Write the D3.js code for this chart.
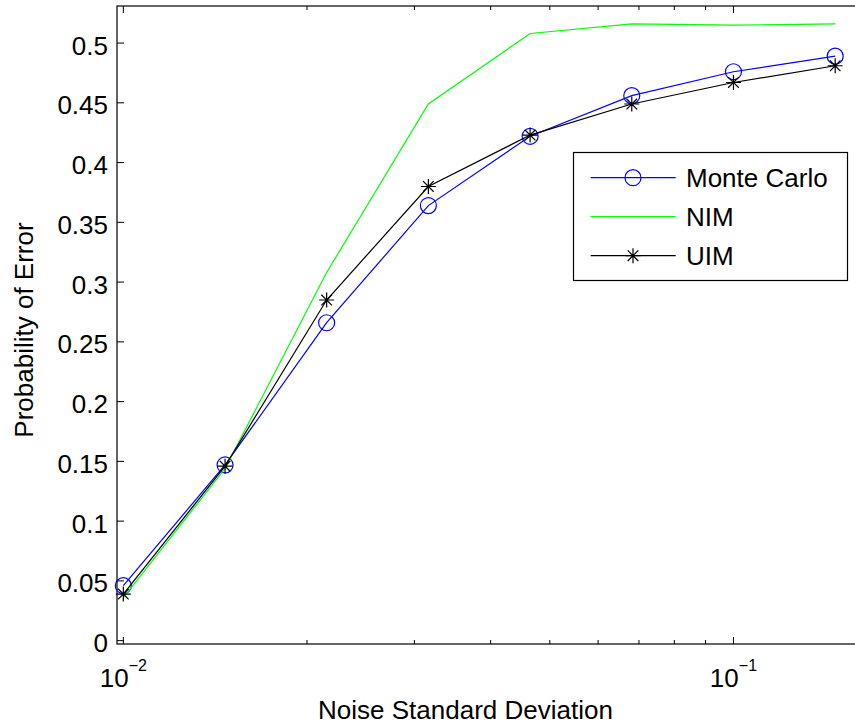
<!DOCTYPE html>
<html>
<head>
<meta charset="utf-8">
<script src="https://cdn.jsdelivr.net/npm/d3@7"></script>
<style>
  body { margin: 0; background: #fff; }
  svg { display: block; font-family: "Liberation Sans", Arial, Helvetica, sans-serif; }
</style>
</head>
<body>
<script>
// noise std values (log spaced, 1/6 decade)
var noiseStd = [0.01, 0.01468, 0.02154, 0.03162, 0.04642, 0.06813, 0.1, 0.1468];
var monteCarlo = [0.046, 0.147, 0.266, 0.364, 0.422, 0.456, 0.476, 0.489];
var nim = [0.036, 0.144, 0.308, 0.449, 0.508, 0.516, 0.515, 0.516];
var uim = [0.039, 0.146, 0.285, 0.380, 0.423, 0.449, 0.467, 0.481];

var yTicks = [0, 0.05, 0.1, 0.15, 0.2, 0.25, 0.3, 0.35, 0.4, 0.45, 0.5];
var yTickLabels = ["0", "0.05", "0.1", "0.15", "0.2", "0.25", "0.3", "0.35", "0.4", "0.45", "0.5"];
var xMajor = [0.01, 0.1];
var xMajorExp = ["\u22122", "\u22121"];
var xMinor = [0.02, 0.03, 0.04, 0.05, 0.06, 0.07, 0.08, 0.09];

var seriesNames = ["Monte Carlo", "NIM", "UIM"];

var width = 855;
var height = 725;
var margins = { top: 6, bottom: 81, left: 117, right: -3 };

var svg = d3.select("body").append("svg")
  .attr("width", width)
  .attr("height", height);

var x0 = margins.left, x1 = width - margins.right;
var y0 = height - margins.bottom, y1 = margins.top;

var xScale = d3.scaleLog()
  .domain([0.009764, 0.16])
  .range([x0, x1]);
var yScale = d3.scaleLinear()
  .domain([-0.0028, 0.531])
  .range([y0, y1]);

var fs = 26;

// box
svg.append("rect")
  .attr("x", x0).attr("y", y1)
  .attr("width", x1 - x0).attr("height", y0 - y1)
  .attr("fill", "none").attr("stroke", "#000").attr("stroke-width", 1.2);

var ticks = svg.append("g").attr("stroke", "#000").attr("stroke-width", 1);

// y ticks (left side)
ticks.selectAll(".yt").data(yTicks).enter().append("line")
  .attr("x1", x0).attr("x2", x0 + 7)
  .attr("y1", function(d){ return yScale(d); })
  .attr("y2", function(d){ return yScale(d); });

// x major ticks bottom + top
ticks.selectAll(".xmb").data(xMajor).enter().append("line")
  .attr("x1", function(d){ return xScale(d); })
  .attr("x2", function(d){ return xScale(d); })
  .attr("y1", y0).attr("y2", y0 - 7);
ticks.selectAll(".xmt").data(xMajor).enter().append("line")
  .attr("x1", function(d){ return xScale(d); })
  .attr("x2", function(d){ return xScale(d); })
  .attr("y1", y1).attr("y2", y1 + 7);

// x minor ticks bottom + top
ticks.selectAll(".xnb").data(xMinor).enter().append("line")
  .attr("x1", function(d){ return xScale(d); })
  .attr("x2", function(d){ return xScale(d); })
  .attr("y1", y0).attr("y2", y0 - 4);
ticks.selectAll(".xnt").data(xMinor).enter().append("line")
  .attr("x1", function(d){ return xScale(d); })
  .attr("x2", function(d){ return xScale(d); })
  .attr("y1", y1).attr("y2", y1 + 4);

// y tick labels
svg.append("g").selectAll("text").data(yTicks).enter().append("text")
  .attr("x", x0 - 9)
  .attr("y", function(d){ return yScale(d) + 11.5; })
  .attr("text-anchor", "end")
  .attr("font-size", fs)
  .attr("fill", "#000")
  .text(function(d, i){ return yTickLabels[i]; });

// x tick labels 10^k
var xl = svg.append("g").selectAll("text").data(xMajor).enter().append("text")
  .attr("x", function(d){ return xScale(d); })
  .attr("y", y0 + 43)
  .attr("text-anchor", "middle")
  .attr("font-size", fs)
  .attr("fill", "#000");
xl.append("tspan").text("10");
xl.append("tspan")
  .attr("font-size", 16)
  .attr("dy", -16)
  .text(function(d, i){ return xMajorExp[i]; });

// axis labels
svg.append("text")
  .attr("x", 465.5)
  .attr("y", 719)
  .attr("text-anchor", "middle")
  .attr("font-size", fs)
  .text("Noise Standard Deviation");

svg.append("text")
  .attr("transform", "translate(33," + ((y0 + y1) / 2 + 5) + ") rotate(-90)")
  .attr("text-anchor", "middle")
  .attr("font-size", fs)
  .text("Probability of Error");

// lines
var line = d3.line()
  .x(function(d){ return xScale(d[0]); })
  .y(function(d){ return yScale(d[1]); });

var mcPts = d3.zip(noiseStd, monteCarlo);
var nimPts = d3.zip(noiseStd, nim);
var uimPts = d3.zip(noiseStd, uim);

var starPath = function(r){
  var k = r * Math.SQRT1_2;
  return "M" + (-r) + ",0L" + r + ",0M0," + (-r) + "L0," + r +
    "M" + (-k) + "," + (-k) + "L" + k + "," + k +
    "M" + (-k) + "," + k + "L" + k + "," + (-k);
};

svg.append("path").datum(mcPts)
  .attr("d", line).attr("fill", "none")
  .attr("stroke", "#0000ff").attr("stroke-width", 1.2);
svg.append("g").selectAll("circle").data(mcPts).enter().append("circle")
  .attr("cx", function(d){ return xScale(d[0]); })
  .attr("cy", function(d){ return yScale(d[1]); })
  .attr("r", 8)
  .attr("fill", "none").attr("stroke", "#0000ff").attr("stroke-width", 1.2);

svg.append("path").datum(nimPts)
  .attr("d", line).attr("fill", "none")
  .attr("stroke", "#00ff00").attr("stroke-width", 1.2);

svg.append("path").datum(uimPts)
  .attr("d", line).attr("fill", "none")
  .attr("stroke", "#000").attr("stroke-width", 1.2);
svg.append("g").selectAll("path").data(uimPts).enter().append("path")
  .attr("transform", function(d){ return "translate(" + xScale(d[0]) + "," + yScale(d[1]) + ")"; })
  .attr("d", starPath(7.5))
  .attr("fill", "none").attr("stroke", "#000").attr("stroke-width", 1.2);

// legend
var legend = svg.append("g");
legend.append("rect")
  .attr("x", 573.5).attr("y", 152.5)
  .attr("width", 274).attr("height", 128)
  .attr("fill", "#fff").attr("stroke", "#000").attr("stroke-width", 1.2);

var colors = ["#0000ff", "#00ff00", "#000"];
var rowY = [177.7, 216.7, 255.7];

var rows = legend.selectAll(".row").data(seriesNames).enter().append("g")
  .attr("transform", function(d, i){ return "translate(0," + rowY[i] + ")"; });
rows.append("line")
  .attr("x1", 590.7).attr("x2", 675.7)
  .attr("stroke", function(d, i){ return colors[i]; })
  .attr("stroke-width", 1.2);
rows.append("text")
  .attr("x", 686).attr("y", 9.5)
  .attr("font-size", fs)
  .text(function(d){ return d; });
rows.filter(function(d, i){ return i === 0; }).append("circle")
  .attr("cx", 633).attr("r", 8)
  .attr("fill", "none").attr("stroke", "#0000ff").attr("stroke-width", 1.2);
rows.filter(function(d, i){ return i === 2; }).append("path")
  .attr("transform", "translate(633,0)")
  .attr("d", starPath(7.5))
  .attr("fill", "none").attr("stroke", "#000").attr("stroke-width", 1.2);
</script>
</body>
</html>
